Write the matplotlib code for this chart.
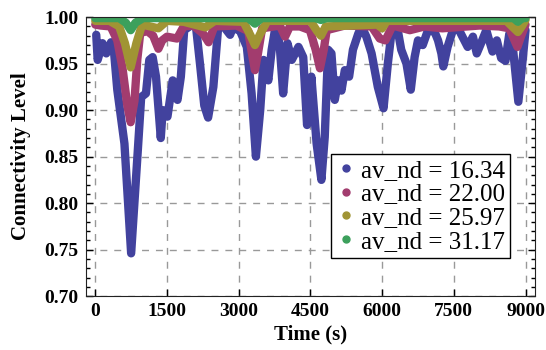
import numpy as np
import matplotlib.pyplot as plt
from matplotlib.lines import Line2D
from matplotlib.ticker import MultipleLocator

plt.rcParams['font.family'] = ['Liberation Serif', 'DejaVu Serif']

# av_nd = 16.34
t1 = [20, 50, 150, 230, 330, 380, 460, 610, 750, 890, 960, 1060, 1130, 1200, 1270,
      1370, 1410, 1510, 1620, 1720, 1790, 1860, 2000, 2100, 2190, 2280, 2360, 2470,
      2570, 2670, 2820, 2880, 3030, 3170, 3270, 3360, 3450, 3520, 3620, 3690, 3780,
      3860, 3930, 4020, 4110, 4250, 4350, 4430, 4520, 4630, 4730, 4800, 4870, 4940,
      5010, 5080, 5150, 5220, 5310, 5390, 5500, 5570, 5670, 5780, 5910, 6030, 6120,
      6210, 6310, 6400, 6510, 6600, 6680, 6750, 6850, 6960, 7100, 7170, 7240, 7280,
      7370, 7480, 7560, 7650, 7790, 7900, 7980, 8070, 8180, 8240, 8310, 8400, 8490,
      8580, 8660, 8740, 8850, 8940, 9000]
v1 = [0.981, 0.954, 0.972, 0.961, 0.973, 0.970, 0.922, 0.864, 0.746, 0.857, 0.914,
      0.918, 0.954, 0.957, 0.936, 0.870, 0.900, 0.893, 0.932, 0.911, 0.936, 0.986,
      0.991, 0.993, 0.950, 0.905, 0.892, 0.925, 0.989, 0.991, 0.981, 0.989, 0.985,
      0.968, 0.918, 0.850, 0.900, 0.954, 0.932, 0.965, 0.993, 0.968, 0.918, 0.972,
      0.954, 0.968, 0.957, 0.884, 0.936, 0.864, 0.825, 0.871, 0.965, 0.961, 0.911,
      0.932, 0.921, 0.943, 0.936, 0.965, 0.982, 0.990, 0.979, 0.961, 0.925, 0.902,
      0.950, 0.990, 0.991, 0.965, 0.950, 0.922, 0.957, 0.975, 0.970, 0.986, 0.984,
      0.975, 0.961, 0.947, 0.968, 0.986, 0.991, 0.982, 0.968, 0.979, 0.961, 0.972,
      0.986, 0.975, 0.963, 0.975, 0.956, 0.953, 0.982, 0.965, 0.909, 0.954, 0.986]

# av_nd = 22.00
t2 = [0, 110, 320, 460, 570, 670, 740, 820, 880, 940, 1090, 1210, 1320, 1400, 1500,
      1710, 1850, 2050, 2260, 2370, 2490, 2950, 3200, 3280, 3340, 3400, 3490, 3860,
      3970, 4070, 4280, 4490, 4610, 4700, 4780, 4840, 5220, 5780, 5950, 6070, 6220,
      6580, 6890, 7260, 8040, 8450, 8660, 8770, 8830, 8910, 9000]
v2 = [0.992, 0.991, 0.990, 0.975, 0.945, 0.905, 0.887, 0.910, 0.955, 0.983, 0.985,
      0.980, 0.966, 0.975, 0.979, 0.977, 0.990, 0.991, 0.982, 0.973, 0.990, 0.991,
      0.985, 0.960, 0.943, 0.960, 0.988, 0.991, 0.979, 0.990, 0.990, 0.986, 0.965,
      0.945, 0.965, 0.986, 0.991, 0.990, 0.977, 0.975, 0.991, 0.986, 0.990, 0.988,
      0.991, 0.990, 0.988, 0.975, 0.968, 0.980, 0.992]

# av_nd = 25.97
t3 = [0, 300, 500, 620, 740, 860, 980, 1320, 1500, 1850, 2300, 2500, 3100, 3250,
      3340, 3450, 3600, 4500, 4640, 4720, 4820, 5900, 6000, 6100, 8600, 8760, 8840,
      8920, 9000]
v3 = [0.996, 0.996, 0.990, 0.972, 0.946, 0.972, 0.992, 0.988, 0.996, 0.995, 0.989,
      0.996, 0.995, 0.980, 0.970, 0.982, 0.996, 0.996, 0.985, 0.980, 0.990, 0.992,
      0.988, 0.996, 0.996, 0.988, 0.984, 0.990, 0.997]

# av_nd = 31.17
t4 = [0, 500, 640, 740, 840, 1000, 3200, 3340, 3480, 4600, 4720, 4840, 8750, 8840,
      8930, 9000]
v4 = [0.999, 0.999, 0.994, 0.986, 0.994, 0.999, 0.999, 0.993, 0.999, 0.999, 0.997,
      0.999, 0.999, 0.995, 0.999, 0.999]

labels = ['av_nd = 16.34', 'av_nd = 22.00', 'av_nd = 25.97', 'av_nd = 31.17']
colors = ['#42429e', '#a23c6e', '#a09434', '#3ca05c']

fig = plt.figure(figsize=(5.46, 3.5), dpi=100)
ax = fig.add_axes([0.157, 0.154, 0.823, 0.797])

for t, v, c in zip([t1, t2, t3, t4], [v1, v2, v3, v4], colors):
    ax.plot(t, v, color=c, lw=6, solid_joinstyle='round', solid_capstyle='round')

ax.set_xlim(-200, 9200)
ax.set_ylim(0.70, 1.00)
ax.set_xticks([0, 1500, 3000, 4500, 6000, 7500, 9000])
ax.set_yticks([0.70, 0.75, 0.80, 0.85, 0.90, 0.95, 1.00])
ax.set_yticklabels(['0.70', '0.75', '0.80', '0.85', '0.90', '0.95', '1.00'])
ax.yaxis.set_minor_locator(MultipleLocator(0.01))
ax.tick_params(which='both', direction='in', top=True, right=True, width=1)
ax.tick_params(which='major', length=5, labelsize=14, pad=5)
ax.tick_params(which='minor', length=3)
for lab in ax.get_xticklabels() + ax.get_yticklabels():
    lab.set_fontweight('bold')
ax.grid(True, which='major', color='#999999', linestyle=(0, (5, 5)), lw=1)
ax.set_axisbelow(True)
for s in ax.spines.values():
    s.set_color('#222222')

ax.set_xlabel('Time (s)', fontsize=15, fontweight='bold', labelpad=3)
ax.set_ylabel('Connectivity Level', fontsize=15, fontweight='bold', labelpad=10)

handles = [Line2D([], [], color=c, marker='o', markersize=5, linestyle='none') for c in colors]
leg = ax.legend(handles, labels, loc='upper right', bbox_to_anchor=(0.944, 0.509),
                fontsize=18, labelspacing=0.05, handletextpad=0.2, handlelength=0.8,
                borderpad=0.2, borderaxespad=0, fancybox=False, framealpha=1)
leg.get_frame().set_edgecolor('black')
leg.get_frame().set_linewidth(1)

fig.savefig('out.png', dpi=100)
